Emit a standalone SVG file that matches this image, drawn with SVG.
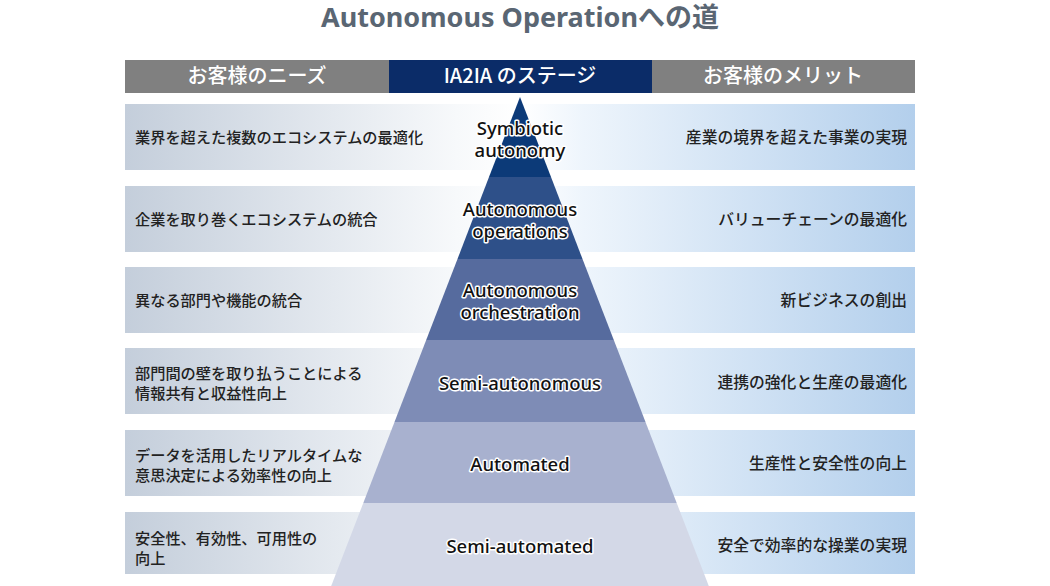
<svg xmlns="http://www.w3.org/2000/svg" width="1050" height="586" viewBox="0 0 1050 586">
<defs>
<linearGradient id="rowGrad" gradientUnits="userSpaceOnUse" x1="125" y1="0" x2="915" y2="0">
<stop offset="0" stop-color="#c4cedb"/>
<stop offset="0.42" stop-color="#f7f9fb"/>
<stop offset="0.5" stop-color="#ffffff"/>
<stop offset="0.58" stop-color="#eef5fc"/>
<stop offset="1" stop-color="#b3cfec"/>
</linearGradient>
<style>
.title{font-family:"Noto Sans","Noto Sans CJK JP",sans-serif;font-weight:bold;font-size:27px;fill:#5a6673;text-anchor:middle}
.hdr{font-family:"Noto Sans CJK JP","Noto Sans",sans-serif;font-weight:500;font-size:20px;fill:#ffffff;text-anchor:middle}
.row{fill:url(#rowGrad)}
.jl{font-family:"Noto Sans CJK JP",sans-serif;font-weight:500;font-size:15.2px;fill:#222222}
.jr{font-family:"Noto Sans CJK JP",sans-serif;font-weight:500;font-size:15.8px;fill:#222222;text-anchor:end}
.pt{font-family:"Noto Sans",sans-serif;font-weight:500;font-size:18.5px;fill:#111111;text-anchor:middle;stroke:#ffffff;stroke-width:3;paint-order:stroke;stroke-linejoin:round}
</style>
</defs>
<rect width="1050" height="586" fill="#ffffff"/>
<text class="title" x="520" y="27">Autonomous Operationへの道</text>
<g id="header">
<rect x="125" y="60" width="264" height="33" fill="#808080"/>
<rect x="389" y="60" width="263" height="33" fill="#0b2c68"/>
<rect x="652" y="60" width="263" height="33" fill="#808080"/>
<text class="hdr" x="257" y="83">お客様のニーズ</text>
<text class="hdr" x="520" y="83">IA2IA のステージ</text>
<text class="hdr" x="783" y="83">お客様のメリット</text>
</g>
<g id="rows">
<rect class="row" x="125" y="104" width="790" height="66"/>
<rect class="row" x="125" y="186" width="790" height="66"/>
<rect class="row" x="125" y="267" width="790" height="66"/>
<rect class="row" x="125" y="348" width="790" height="66"/>
<rect class="row" x="125" y="430" width="790" height="66"/>
<rect class="row" x="125" y="512" width="790" height="62"/>
</g>
<g id="pyramid">
<polygon points="520,97 551,177 489,177" fill="#0c3a78"/>
<polygon points="489,177 551,177 582.5,259 457.5,259" fill="#2e5089"/>
<polygon points="457.5,259 582.5,259 613.8,340 426.2,340" fill="#566b9e"/>
<polygon points="426.2,340 613.8,340 645.5,422 394.5,422" fill="#7e8cb6"/>
<polygon points="394.5,422 645.5,422 676.7,503 363.3,503" fill="#a8b1cf"/>
<polygon points="363.3,503 676.7,503 708.8,586 331.2,586" fill="#d3d8e7"/>
</g>
<g id="stage1"><text class="pt" x="520" y="135">Symbiotic<tspan x="520" dy="22">autonomy</tspan></text></g>
<g id="stage2"><text class="pt" x="520" y="216">Autonomous<tspan x="520" dy="22">operations</tspan></text></g>
<g id="stage3"><text class="pt" x="520" y="297">Autonomous<tspan x="520" dy="22">orchestration</tspan></text></g>
<g id="stage4"><text class="pt" x="520" y="390">Semi-autonomous</text></g>
<g id="stage5"><text class="pt" x="520" y="471">Automated</text></g>
<g id="stage6"><text class="pt" x="520" y="553">Semi-automated</text></g>
<g id="needs">
<text class="jl" x="135" y="143">業界を超えた複数のエコシステムの最適化</text>
<text class="jl" x="135" y="225">企業を取り巻くエコシステムの統合</text>
<text class="jl" x="135" y="306">異なる部門や機能の統合</text>
<text class="jl" x="135" y="379">部門間の壁を取り払うことによる<tspan x="135" dy="20">情報共有と収益性向上</tspan></text>
<text class="jl" x="135" y="461">データを活用したリアルタイムな<tspan x="135" dy="20">意思決定による効率性の向上</tspan></text>
<text class="jl" x="135" y="544">安全性、有効性、可用性の<tspan x="135" dy="20">向上</tspan></text>
</g>
<g id="benefits">
<text class="jr" x="907" y="143">産業の境界を超えた事業の実現</text>
<text class="jr" x="907" y="225">バリューチェーンの最適化</text>
<text class="jr" x="907" y="306">新ビジネスの創出</text>
<text class="jr" x="907" y="388">連携の強化と生産の最適化</text>
<text class="jr" x="907" y="469">生産性と安全性の向上</text>
<text class="jr" x="907" y="551">安全で効率的な操業の実現</text>
</g>
</svg>
